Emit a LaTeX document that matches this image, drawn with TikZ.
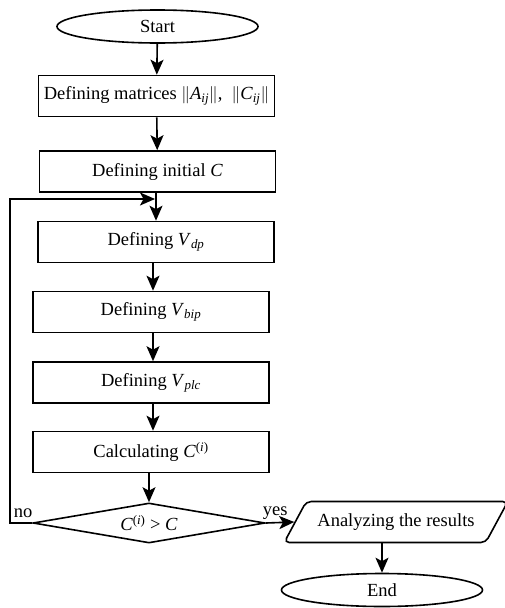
\documentclass[tikz,border=0pt]{standalone}
\usepackage{fontspec}
\setmainfont{Liberation Serif}
\usetikzlibrary{shapes.geometric,arrows.meta}
\newcommand{\ivar}[2]{\textit{#1}\textsubscript{\textit{#2}}}

\begin{document}
\begin{tikzpicture}[x=1pt,y=-1pt,line width=1.6pt,
                    font=\fontsize{18.5}{21}\selectfont,
                    blok/.style={draw,rectangle,minimum width=236pt,minimum height=41pt,inner sep=0pt},
                    term/.style={draw,ellipse,minimum width=201pt,minimum height=33pt,inner sep=0pt},
                    test/.style={draw,diamond,aspect=5.8,minimum width=232pt,minimum height=40pt,inner sep=0pt},
                    izhod/.style={draw,trapezium,trapezium left angle=41,trapezium right angle=139,
                                  trapezium stretches=true,minimum width=224pt,minimum height=41pt,
                                  rounded corners=5pt,inner sep=0pt},
                    puscica/.style={-{Stealth[length=15pt,width=13pt,inset=3.5pt]}}]
                        \useasboundingbox (0,0) rectangle (505,608);%

                        % Marking start
                        \node (start) [term] at (157.5,26.5) {Start};%

                        % Marking boxes of the loop
                        \node (mat) [blok] at (156.5,96) {Defining matrices $\Vert$\ivar{A}{ij}$\Vert$,\ \ $\Vert$\ivar{C}{ij}$\Vert$};%
                        \node (init) [blok] at (157.5,171.5) {Defining initial \textit{C}};%
                        \node (vdp) [blok] at (156,242) {Defining \ivar{V}{dp}};%
                        \node (vbip) [blok] at (151,312) {Defining \ivar{V}{bip}};%
                        \node (vplc) [blok] at (151,382.5) {Defining \ivar{V}{plc}};%
                        \node (calc) [blok] at (151,452) {Calculating \textit{C}\textsuperscript{(\textit{i})}};%

                        % Marking test
                        \node (cmp) [test] at (149,523) {\textit{C}\textsuperscript{(\textit{i})} > \textit{C}};%

                        % Marking output and end
                        \node (anl) [izhod] at (396,522) {Analyzing the results};%
                        \node (ende) [term] at (382,590) {End};%

                        % Drawing arrows down
                        \draw [puscica] (start) -- (mat);%
                        \draw [puscica] (mat) -- (init);%
                        \draw [puscica] (init.south -| vdp.north) -- (vdp.north);%
                        \draw [puscica] (vdp.south -| 153,0) -- (vbip.north -| 153,0);%
                        \draw [puscica] (vbip.south -| 153,0) -- (vplc.north -| 153,0);%
                        \draw [puscica] (vplc.south -| 153,0) -- (calc.north -| 153,0);%
                        \draw [puscica] (calc.south -| cmp.north) -- (cmp.north);%

                        % Drawing line back (no)
                        \coordinate (back) at (155,199);%
                        \draw [puscica] (cmp.west) -- (10,523) |- (back);%
                        \node (ne) [anchor=base west,inner sep=0pt] at (13,517) {no};%

                        % Drawing line on (yes)
                        \draw [puscica] (cmp.east) -- (anl.left side);%
                        \node (da) [anchor=base west,inner sep=0pt] at (262,515) {yes};%

                        % Drawing arrow to end
                        \draw [puscica] (ende.north |- anl.bottom side) -- (ende.north);%
                    \end{tikzpicture}
\end{document}
